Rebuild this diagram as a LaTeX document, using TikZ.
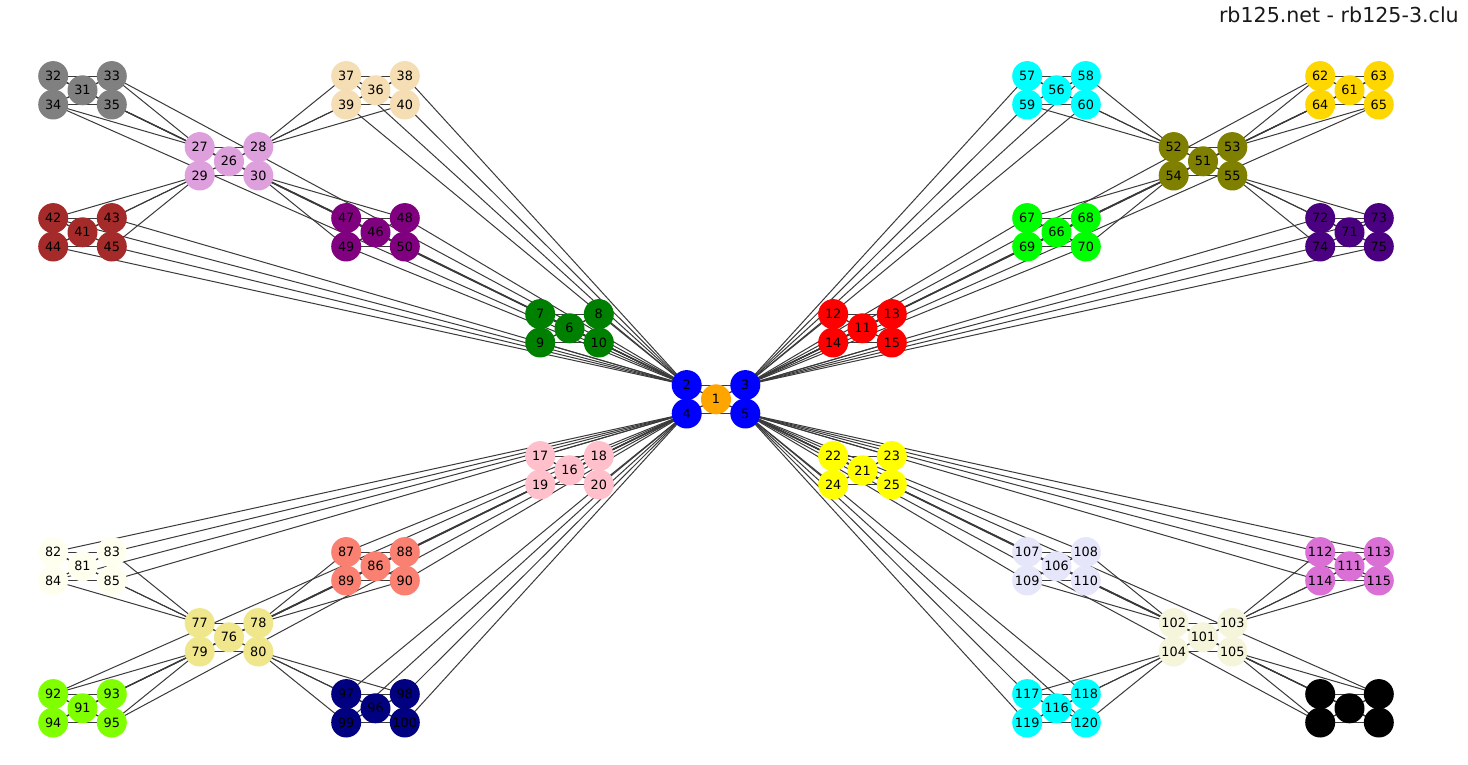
\documentclass[tikz,border=0pt]{standalone}
\usepackage{fontspec}
\newfontfamily\lab{DejaVu Sans}
\pgfdeclarelayer{bg}
\pgfdeclarelayer{edgelayer}
\pgfsetlayers{bg,edgelayer,main}
\definecolor{hubc}{HTML}{FFA500}
\definecolor{m0}{HTML}{0000FF}
\definecolor{m1}{HTML}{008000}
\definecolor{m2}{HTML}{FF0000}
\definecolor{m3}{HTML}{FFC0CB}
\definecolor{m4}{HTML}{FFFF00}
\definecolor{m5}{HTML}{DDA0DD}
\definecolor{m6}{HTML}{808080}
\definecolor{m7}{HTML}{F5DEB3}
\definecolor{m8}{HTML}{A52A2A}
\definecolor{m9}{HTML}{800080}
\definecolor{m10}{HTML}{808000}
\definecolor{m11}{HTML}{00FFFF}
\definecolor{m12}{HTML}{FFD700}
\definecolor{m13}{HTML}{00FF00}
\definecolor{m14}{HTML}{4B0082}
\definecolor{m15}{HTML}{F0E68C}
\definecolor{m16}{HTML}{FFFFF0}
\definecolor{m17}{HTML}{FA8072}
\definecolor{m18}{HTML}{7FFF00}
\definecolor{m19}{HTML}{000080}
\definecolor{m20}{HTML}{F5F5DC}
\definecolor{m21}{HTML}{E6E6FA}
\definecolor{m22}{HTML}{DA70D6}
\definecolor{m23}{HTML}{00FFFF}
\definecolor{m24}{HTML}{000000}
\definecolor{edgec}{HTML}{3A3A3A}
\tikzset{
  vtx/.style={circle, minimum size=30pt, inner sep=0pt, draw=none,
    font=\lab\fontsize{12.8}{14}\selectfont, text=black},
  edge/.style={draw=edgec, line width=1pt},
  titletext/.style={font=\lab\fontsize{20.6}{24}\selectfont, text=black!90, inner sep=0pt},
  declare function={sx(\k)=(\k>0)*(2*mod(\k+1,2)-1); sy(\k)=(\k>0)*(2*(\k>2)-1);}
}
\begin{document}
\begin{tikzpicture}[x=1pt,y=-1pt]
\begin{pgfonlayer}{bg}
\fill[white] (0,0) rectangle (1468,765);
\end{pgfonlayer}
\useasboundingbox (0,0) rectangle (1468,765);
% nodes
\foreach \b in {0,...,4}{
  \foreach \m in {0,...,4}{
    \foreach \r in {0,...,4}{
      \pgfmathsetmacro{\X}{716+487*sx(\b)+146.5*sx(\m)+29.3*sx(\r)}
      \pgfmathsetmacro{\Y}{399.3+238*sy(\b)+71*sy(\m)+14.2*sy(\r)}
      \pgfmathtruncatemacro{\N}{25*\b+5*\m+\r+1}
      \pgfmathtruncatemacro{\M}{5*\b+\m}
      \ifnum\N=1 \def\fc{hubc}\else\def\fc{m\M}\fi
      \node[vtx, fill=\fc] (v\N) at (\X,\Y) {\N};
    }
  }
}
% edges
\begin{pgfonlayer}{edgelayer}
\foreach \M in {0,...,24}{
  \foreach \i/\j in {0/1,0/2,0/3,0/4,1/2,1/3,1/4,2/3,2/4,3/4}{
    \pgfmathtruncatemacro{\A}{5*\M+\i+1}
    \pgfmathtruncatemacro{\C}{5*\M+\j+1}
    \draw[edge] (v\A.center) -- (v\C.center);
  }
}
\foreach \b in {0,...,4}{
  \foreach \m in {1,...,4}{
    \foreach \r in {1,...,4}{
      \pgfmathtruncatemacro{\A}{25*\b+5*\m+\r+1}
      \pgfmathtruncatemacro{\C}{25*\b+\m+1}
      \draw[edge] (v\A.center) -- (v\C.center);
    }
  }
}
\foreach \b in {1,...,4}{
  \foreach \m in {1,...,4}{
    \foreach \r in {1,...,4}{
      \pgfmathtruncatemacro{\A}{25*\b+5*\m+\r+1}
      \pgfmathtruncatemacro{\C}{\b+1}
      \draw[edge] (v\A.center) -- (v\C.center);
    }
  }
}
\end{pgfonlayer}
\node[titletext, anchor=base east] (title) at (1459,22.5) {rb125.net - rb125-3.clu};
\end{tikzpicture}
\end{document}
